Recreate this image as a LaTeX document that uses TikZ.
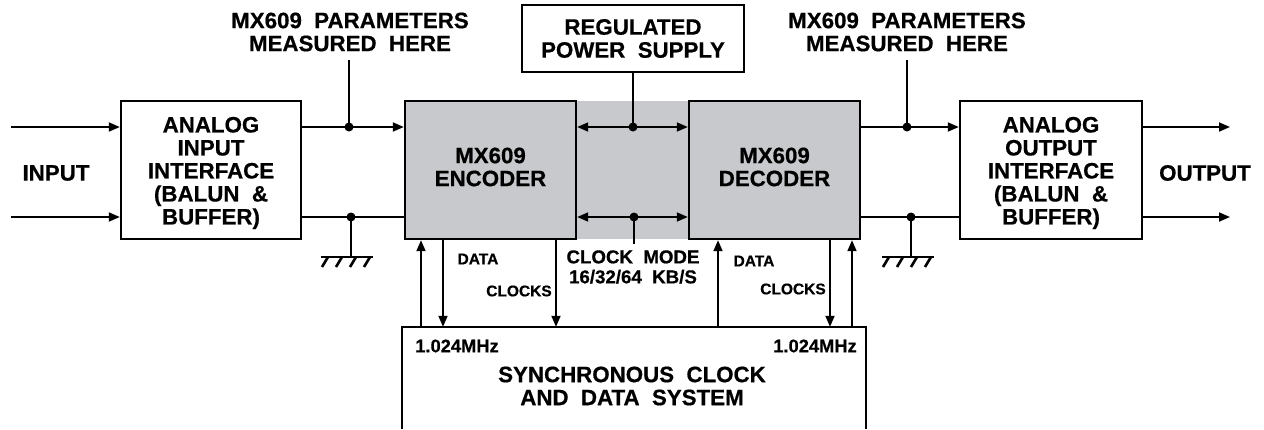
\documentclass[tikz,border=0pt]{standalone}
\usepackage{fontspec}
\setmainfont{Liberation Sans}[BoldFeatures={FakeBold=0.6}]
\usetikzlibrary{arrows.meta}
\definecolor{chipgray}{RGB}{200,201,204}
\newcommand{\mybigfont}{\fontsize{22.3}{23}\selectfont\bfseries}
\newcommand{\mymidfont}{\fontsize{18.7}{20}\selectfont\bfseries}
\newcommand{\mysmallfont}{\fontsize{15.5}{16}\selectfont\bfseries}
\newcommand{\mymhzfont}{\fontsize{18.3}{19}\selectfont\bfseries}
\tikzset{
  blk/.style={draw, line width=2.4pt, inner sep=0pt},
  lbl/.style={align=center, font=\mybigfont, inner sep=0pt},
  mid/.style={align=center, font=\mymidfont, inner sep=0pt},
  sml/.style={font=\mysmallfont, inner sep=0pt},
  mhz/.style={font=\mymhzfont, inner sep=0pt},
  wire/.style={line width=1.8pt},
  arr/.style={wire, -{Triangle[length=11pt,width=9pt]}},
  darr/.style={wire, {Triangle[length=11pt,width=9pt]}-{Triangle[length=11pt,width=9pt]}},
  gnd/.style={line width=2.6pt},
}
\begin{document}
\begin{tikzpicture}[x=1pt,y=-1pt]
\useasboundingbox (0,0) rectangle (1264,429);
% blocks
\node[blk, minimum width=180pt, minimum height=138pt] (ain) at (211,170) {};
\node[lbl] (aint) at (211,173) {ANALOG\\INPUT\\INTERFACE\\(BALUN\ \ \&\\BUFFER)};
\node[blk, minimum width=182pt, minimum height=138pt] (aout) at (1051,170) {};
\node[lbl] (aoutt) at (1051,173) {ANALOG\\OUTPUT\\INTERFACE\\(BALUN\ \ \&\\BUFFER)};
\fill[chipgray] (576,101) rectangle (689,239);
\node[blk, fill=chipgray, minimum width=171pt, minimum height=138pt] (enc) at (490.5,170) {};
\node[lbl] (enct) at (490.5,167) {MX609\\ENCODER};
\node[blk, fill=chipgray, minimum width=171pt, minimum height=138pt] (dec) at (774.5,170) {};
\node[lbl] (dect) at (774.5,167) {MX609\\DECODER};
\node[blk, minimum width=222pt, minimum height=67pt] (psu) at (633,38.5) {};
\node[lbl] (psut) at (633,38.5) {REGULATED\\POWER\ \ SUPPLY};
\node[inner sep=0pt, minimum width=464pt, minimum height=102pt] (sync) at (634,378) {};
\draw[line width=2.4pt] (sync.south west) -- (sync.north west) -- (sync.north east) -- (sync.south east);
\node[lbl] (synct) at (632,386) {SYNCHRONOUS\ \ CLOCK\\AND\ \ DATA\ \ SYSTEM};
% labels
\node[lbl] (inl) at (56,173) {INPUT};
\node[lbl] (outl) at (1205,173) {OUTPUT};
\node[lbl] (meas1) at (350,32) {MX609\ \ PARAMETERS\\MEASURED\ \ HERE};
\node[lbl] (meas2) at (907,32) {MX609\ \ PARAMETERS\\MEASURED\ \ HERE};
\node[mid] (cmode) at (633,267) {CLOCK\ \ MODE\\16/32/64\ \ KB/S};
\node[sml] (data1) at (478,259) {DATA};
\node[sml] (clk1) at (519,291) {CLOCKS};
\node[sml] (data2) at (754,261) {DATA};
\node[sml] (clk2) at (793,289) {CLOCKS};
\node[mhz] (mhz1) at (457,346) {1.024MHz};
\node[mhz] (mhz2) at (815,346) {1.024MHz};
% coordinates
\coordinate (in1) at (11,127);
\coordinate (in2) at (11,217);
\coordinate (j1) at (349,127);
\coordinate (j2) at (351,217);
\coordinate (m1) at (349,60);
\coordinate (g1) at (351,257);
\coordinate (j3) at (907,127);
\coordinate (j4) at (911,217);
\coordinate (m2) at (907,60);
\coordinate (g2) at (911,257);
\coordinate (p1) at (633,127);
\coordinate (c1) at (634,217);
\coordinate (c1e) at (634,244);
\coordinate (o1) at (1230,127);
\coordinate (o2) at (1230,217);
% input side
\draw[arr] (in1) -- (in1 -| ain.west);
\draw[arr] (in2) -- (in2 -| ain.west);
\draw[arr] (ain.east |- j1) -- (enc.west |- j1);
\draw[wire] (ain.east |- j2) -- (enc.west |- j2);
\draw[wire] (m1) -- (j1);
\draw[wire] (j2) -- (g1);
\fill (j1) circle (4.5pt);
\fill (j2) circle (4.5pt);
% ground 1
\draw[wire] ([xshift=-30pt]g1) -- ([xshift=22pt]g1);
\foreach \k in {0,1,2,3} {\draw[gnd] ([xshift={-23+14*\k}]g1) -- ([xshift={-29+14*\k},yshift=-10pt]g1);}
% middle
\draw[darr] (enc.east |- p1) -- (dec.west |- p1);
\draw[wire] (psu.south) -- (p1);
\fill (p1) circle (4.5pt);
\draw[darr] (enc.east |- c1) -- (dec.west |- c1);
\draw[wire] (c1) -- (c1e);
\fill (c1) circle (4.5pt);
% output side
\draw[arr] (dec.east |- j3) -- (aout.west |- j3);
\draw[wire] (dec.east |- j4) -- (aout.west |- j4);
\draw[wire] (m2) -- (j3);
\draw[wire] (j4) -- (g2);
\fill (j3) circle (4.5pt);
\fill (j4) circle (4.5pt);
\draw[wire] ([xshift=-29pt]g2) -- ([xshift=23pt]g2);
\foreach \k in {0,1,2,3} {\draw[gnd] ([xshift={-22+14*\k}]g2) -- ([xshift={-28+14*\k},yshift=-10pt]g2);}
\draw[arr] (aout.east |- o1) -- (o1);
\draw[arr] (aout.east |- o2) -- (o2);
% sync connections
\draw[arr] (sync.north -| 421,0) -- (enc.south -| 421,0);
\draw[arr] (enc.south -| 443,0) -- (sync.north -| 443,0);
\draw[arr] (enc.south -| 556,0) -- (sync.north -| 556,0);
\draw[arr] (sync.north -| 718,0) -- (dec.south -| 718,0);
\draw[arr] (dec.south -| 830,0) -- (sync.north -| 830,0);
\draw[arr] (sync.north -| 852,0) -- (dec.south -| 852,0);
\end{tikzpicture}
\end{document}
